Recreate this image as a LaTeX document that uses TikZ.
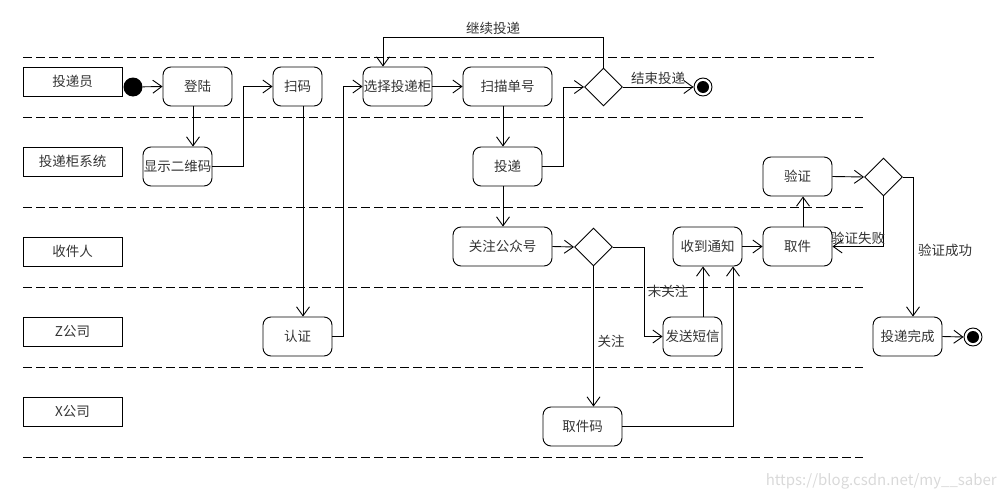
\documentclass[tikz,border=0pt]{standalone}
\usepackage{fontspec}
\setmainfont{Noto Sans CJK SC}
\usetikzlibrary{arrows.meta,shapes.geometric}
\definecolor{txt}{HTML}{333333}
\tikzset{
  lanebox/.style={draw, line width=0.9pt, minimum width=99pt, minimum height=29pt, inner sep=0pt, text=txt, font=\fontsize{13.5}{13.5}\selectfont},
  act/.style={draw, line width=0.9pt, rounded corners=8pt, minimum height=39pt, inner sep=0pt, text=txt, font=\fontsize{13.5}{13.5}\selectfont},
  dec/.style={draw, diamond, line width=0.9pt, minimum width=38pt, minimum height=38pt, inner sep=0pt},
  arr/.style={-{Straight Barb[length=9pt,width=13pt,line width=0.9pt]}, line width=0.9pt},
  lbl/.style={inner sep=0pt, text=txt, font=\fontsize{13.5}{13.5}\selectfont},
  sep/.style={line width=0.9pt, dash pattern=on 9pt off 4pt},
}
\begin{document}
\begin{tikzpicture}[x=1pt,y=-1pt]
\useasboundingbox (0,0) rectangle (1007,498);
% swimlane separators
\draw[sep] (23,57) -- (874,57);
\draw[sep] (23,117) -- (863,117);
\draw[sep] (23,207) -- (863,207);
\draw[sep] (23,287) -- (863,287);
\draw[sep] (23,367) -- (863,367);
\draw[sep] (23,457) -- (863,457);
% lane labels
\node[lanebox] (l1) at (72.5,81.5) {投递员};
\node[lanebox] (l2) at (72.5,161.5) {投递柜系统};
\node[lanebox] (l3) at (72.5,251.5) {收件人};
\node[lanebox] (l4) at (72.5,331.5) {Z公司};
\node[lanebox] (l5) at (72.5,411.5) {X公司};
% nodes
\node[circle, fill=black, minimum size=19pt, inner sep=0pt] (start) at (133,87) {};
\node[act, minimum width=69pt] (denglu) at (197.5,86.5) {登陆};
\node[act, minimum width=49pt] (saoma) at (297.5,86.5) {扫码};
\node[act, minimum width=69pt] (xianshi) at (177.5,166.5) {显示二维码};
\node[act, minimum width=69pt] (renzheng) at (297.5,336.5) {认证};
\node[act, minimum width=69pt] (xuanze) at (397.5,86.5) {选择投递柜};
\node[act, minimum width=89pt] (saomiao) at (507.5,86.5) {扫描单号};
\node[act, minimum width=69pt] (toudi) at (507.5,166.5) {投递};
\node[dec] (d1) at (603.5,87) {};
\node[draw, circle, line width=0.9pt, minimum size=18pt, inner sep=0pt] (end1) at (703,87) {};
\fill (end1.center) circle (6pt);
\node[act, minimum width=99pt] (guanzhu) at (502.5,246.5) {关注公众号};
\node[dec] (d2) at (593.5,247) {};
\node[act, minimum width=79pt] (qujianma) at (582.5,426.5) {取件码};
\node[act, minimum width=59pt] (fasong) at (692.5,336.5) {发送短信};
\node[act, minimum width=69pt] (shoudao) at (707.5,246.5) {收到通知};
\node[act, minimum width=69pt] (qujian) at (797.5,246.5) {取件};
\node[act, minimum width=69pt] (yanzheng) at (797.5,176.5) {验证};
\node[dec] (d3) at (883.5,177) {};
\node[act, minimum width=69pt] (wancheng) at (907.5,336.5) {投递完成};
\node[draw, circle, line width=0.9pt, minimum size=18pt, inner sep=0pt] (end2) at (973,337) {};
\fill (end2.center) circle (6pt);
\coordinate (loop) at (383,37);
% edges
\draw[arr] (start) -- (denglu.west);
\draw[arr] ([xshift=-4.5pt]denglu.south) -- ([xshift=15.5pt]xianshi.north);
\draw[arr] (xianshi.east) -- ++(31,0) |- (saoma.west);
\draw[arr] ([xshift=5.5pt]saoma.south) -- ([xshift=5.5pt]renzheng.north);
\draw[arr] (renzheng.east) -- ++(11,0) |- (xuanze.west);
\draw[arr] (xuanze.east) -- (saomiao.west);
\draw[arr] ([xshift=-4.5pt]saomiao.south) -- ([xshift=-4.5pt]toudi.north);
\draw[arr] (toudi.east) -- ++(21,0) |- (d1.west);
\draw[arr] (d1.north) |- (loop) -- ([xshift=-14.5pt]xuanze.north);
\draw[arr] (d1.east) -- (end1.west);
\draw[arr] ([xshift=-4.5pt]toudi.south) -- ([xshift=0.5pt]guanzhu.north);
\draw[arr] (guanzhu.east) -- (d2.west);
\draw[arr] (d2.south) -- (d2.south |- qujianma.north);
\draw[arr] (d2.east) -- ++(31,0) |- (fasong.west);
\draw[arr] ([xshift=10.5pt]fasong.north) -- ([xshift=10.5pt]fasong.north |- shoudao.south);
\draw[arr] (qujianma.east) -| ([xshift=25.5pt]shoudao.south);
\draw[arr] (shoudao.east) -- (qujian.west);
\draw[arr] ([xshift=5.5pt]qujian.north) -- ([xshift=5.5pt]yanzheng.south);
\draw[arr] (yanzheng.east) -- (d3.west);
\draw[arr] (d3.south) |- (qujian.east);
\draw[arr] (d3.east) -| ([xshift=5.5pt]wancheng.north);
\draw[arr] (wancheng.east) -- (end2.west);
% labels
\node[lbl] (t1) at (493,28) {继续投递};
\node[lbl] (t2) at (658,78) {结束投递};
\node[lbl] (t3) at (611,341) {关注};
\node[lbl] (t4) at (668,291) {未关注};
\node[lbl] (t5) at (858,238) {验证失败};
\node[lbl] (t6) at (945,250) {验证成功};
\node[inner sep=0pt, anchor=east, text=black!15, font=\fontsize{15}{15}\selectfont] (wm) at (997,481) {https://blog.csdn.net/my\_\_saber};
\end{tikzpicture}
\end{document}
